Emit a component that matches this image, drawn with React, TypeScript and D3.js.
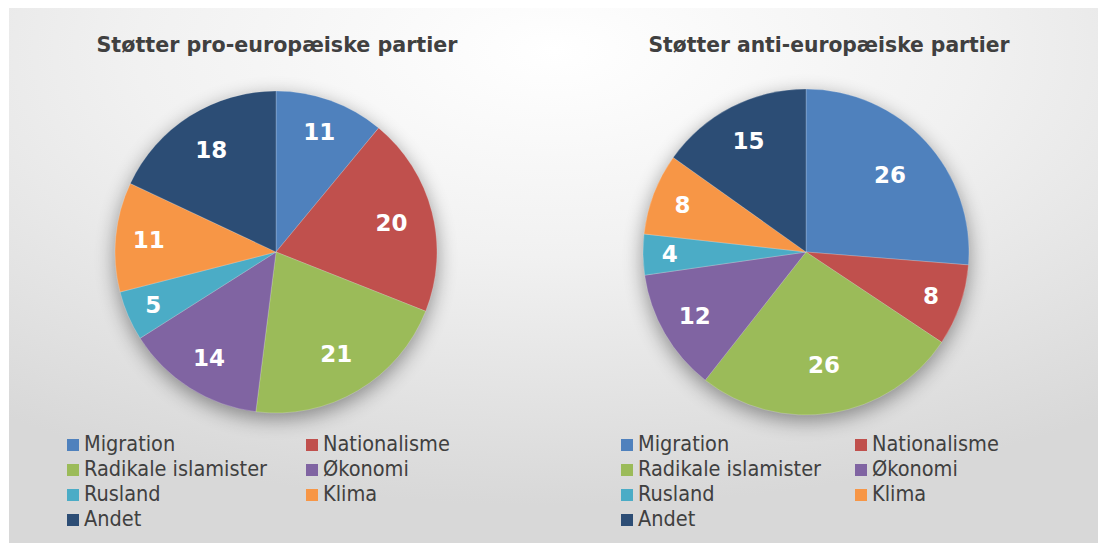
import React from 'react';
import * as d3 from 'd3';

const categories = ['Migration', 'Nationalisme', 'Radikale islamister', 'Økonomi', 'Rusland', 'Klima', 'Andet'];
const proValues = [11, 20, 21, 14, 5, 11, 18];
const antiValues = [26, 8, 26, 12, 4, 8, 15];
const colors = ['#4F81BD', '#C0504D', '#9BBB59', '#8064A2', '#4BACC6', '#F79646', '#2C4D75'];
const titles = ['Støtter pro-europæiske partier', 'Støtter anti-europæiske partier'];

const W = 1098;
const H = 548;
const textColor = '#404040';

type PanelProps = {
  values: number[];
  title: string;
  cx: number;
  cy: number;
  r: number;
  titleX: number;
  legendX: number;
  colGap: number;
};

const Panel = ({ values, title, cx, cy, r, titleX, legendX, colGap }: PanelProps) => {
  const pie = d3.pie<number>().sort(null).value(d => d);
  const arcs = pie(values);
  const total = d3.sum(values);
  const arc = d3.arc<d3.PieArcDatum<number>>().innerRadius(0).outerRadius(r);

  // small slices get their label pushed further out, like Excel's best fit
  const labelPos = (a: d3.PieArcDatum<number>) => {
    const k = r * (0.86 - 0.6 * (a.value / total));
    return d3.arc<d3.PieArcDatum<number>>().innerRadius(k).outerRadius(k).centroid(a);
  };

  const rowY = d3.scaleLinear().domain([0, 1]).range([451, 476]);

  return (
    <g>
      <text
        x={titleX}
        y={52}
        textAnchor="middle"
        fontFamily="'DejaVu Sans Condensed', 'DejaVu Sans', sans-serif"
        fontWeight="bold"
        fontSize={22}
        fill={textColor}
        textLength={361}
        lengthAdjust="spacingAndGlyphs"
      >
        {title}
      </text>
      <circle cx={cx} cy={cy + 6} r={r} fill="#000" opacity={0.4} filter="url(#pieShadow)" />
      <g transform={`translate(${cx},${cy})`}>
        {arcs.map((a, i) => (
          <path key={i} d={arc(a) || ''} fill={colors[i]} stroke="rgba(255,255,255,0.35)" strokeWidth={0.6} />
        ))}
        {arcs.map((a, i) => {
          const [lx, ly] = labelPos(a);
          return (
            <text
              key={'l' + i}
              x={lx}
              y={ly}
              dy="0.36em"
              textAnchor="middle"
              fontFamily="'DejaVu Sans', sans-serif"
              fontWeight="bold"
              fontSize={23}
              fill="#fff"
            >
              {a.data}
            </text>
          );
        })}
      </g>
      {categories.map((c, i) => {
        const col = i % 2;
        const row = Math.floor(i / 2);
        const x = legendX + col * colGap;
        const y = rowY(row);
        return (
          <g key={'lg' + i}>
            <rect x={x} y={y - 12} width={12} height={12} fill={colors[i]} />
            <text
              x={x + 17}
              y={y}
              fontFamily="'DejaVu Sans Condensed', 'DejaVu Sans', sans-serif"
              fontSize={21.5}
              fill={textColor}
            >
              {c}
            </text>
          </g>
        );
      })}
    </g>
  );
};

export default function App() {
  return (
    <svg
      width={W}
      height={H}
      style={{ position: 'absolute', left: 0, top: 0, display: 'block' }}
    >
      <defs>
        <radialGradient id="bg" cx="0.5" cy="0.08" r="0.85">
          <stop offset="0" stopColor="#ffffff" />
          <stop offset="0.45" stopColor="#f1f1f1" />
          <stop offset="1" stopColor="#d8d8d8" />
        </radialGradient>
        <filter id="pieShadow" x="-30%" y="-30%" width="160%" height="160%">
          <feGaussianBlur stdDeviation="10" />
        </filter>
      </defs>
      <rect x={0} y={0} width={W} height={H} fill="#fff" />
      <rect x={9} y={8} width={W - 9} height={535} fill="url(#bg)" />
      <Panel values={proValues} title={titles[0]} cx={276} cy={252} r={161} titleX={277} legendX={67} colGap={239} />
      <Panel values={antiValues} title={titles[1]} cx={806} cy={252} r={163} titleX={829} legendX={621} colGap={234} />
    </svg>
  );
}
